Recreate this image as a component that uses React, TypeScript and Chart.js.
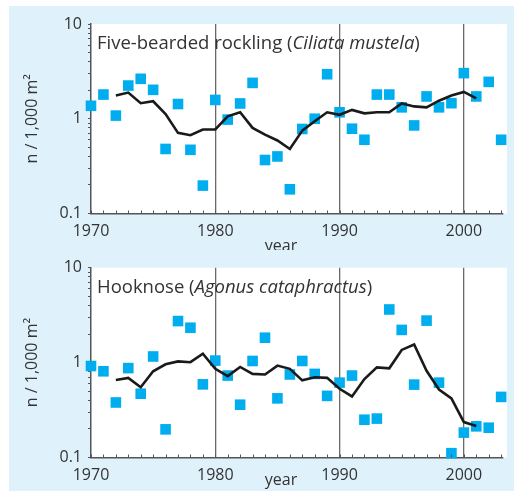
import React, { useEffect, useRef } from 'react';
import { Chart, registerables } from 'chart.js';

Chart.register(...registerables);

const years = [
  1970, 1971, 1972, 1973, 1974, 1975, 1976, 1977, 1978, 1979,
  1980, 1981, 1982, 1983, 1984, 1985, 1986, 1987, 1988, 1989,
  1990, 1991, 1992, 1993, 1994, 1995, 1996, 1997, 1998, 1999,
  2000, 2001, 2002, 2003,
];

const trendYears = [
  1972, 1973, 1974, 1975, 1976, 1977, 1978, 1979, 1980, 1981,
  1982, 1983, 1984, 1985, 1986, 1987, 1988, 1989, 1990, 1991,
  1992, 1993, 1994, 1995, 1996, 1997, 1998, 1999, 2000, 2001,
];

const rocklingObs = [
  1.37, 1.8, 1.08, 2.24, 2.64, 2.02, 0.48, 1.43, 0.47, 0.197,
  1.58, 0.98, 1.45, 2.39, 0.367, 0.4, 0.18, 0.78, 1.0, 2.95,
  1.17, 0.785, 0.6, 1.8, 1.8, 1.32, 0.85, 1.72, 1.32, 1.46,
  3.03, 1.72, 2.45, 0.6,
];

const rocklingTrend = [
  1.76, 1.89, 1.46, 1.53, 1.12, 0.71, 0.67, 0.77, 0.77, 1.06,
  1.17, 0.8, 0.68, 0.59, 0.48, 0.75, 0.94, 1.17, 1.1, 1.24,
  1.14, 1.17, 1.17, 1.45, 1.35, 1.32, 1.55, 1.76, 1.92, 1.64,
];

const hooknoseObs = [
  0.92, 0.81, 0.38, 0.875, 0.47, 1.16, 0.198, 2.74, 2.33, 0.59,
  1.05, 0.73, 0.36, 1.04, 1.83, 0.42, 0.75, 1.04, 0.76, 0.446,
  0.615, 0.73, 0.25, 0.257, 3.63, 2.21, 0.586, 2.77, 0.615, 0.111,
  0.183, 0.213, 0.206, 0.435,
];

const hooknoseTrend = [
  0.656, 0.69, 0.55, 0.81, 0.96, 1.03, 1.01, 1.24, 0.86, 0.72,
  0.9, 0.76, 0.75, 0.93, 0.86, 0.65, 0.7, 0.69, 0.53, 0.44,
  0.67, 0.89, 0.87, 1.36, 1.55, 0.82, 0.52, 0.42, 0.236, 0.215,
];

const yTickValues = [
  0.1, 0.2, 0.3, 0.4, 0.5, 0.6, 0.7, 0.8, 0.9,
  1, 2, 3, 4, 5, 6, 7, 8, 9, 10,
];
const yTickLabels: Record<string, string> = { '0.1': '0.1', '1': '1', '10': '10' };
const decadeLines = [1980, 1990, 2000];
const decadeLabels = [1970, 1980, 1990, 2000];

const rocklingTitle = [
  { text: 'Five-bearded rockling (', italic: false },
  { text: 'Ciliata mustela', italic: true },
  { text: ')', italic: false },
];
const hooknoseTitle = [
  { text: 'Hooknose (', italic: false },
  { text: 'Agonus cataphractus', italic: true },
  { text: ')', italic: false },
];

const FONT = "'Open Sans', 'DejaVu Sans', sans-serif";
const TEXT = '#333333';
const AXIS = '#555555';

type PanelProps = {
  obs: number[];
  trend: number[];
  title: { text: string; italic: boolean }[];
  height: number;
  padTop: number;
  xAxisHeight: number;
  yearDy: number;
};

function Panel({ obs, trend, title, height, padTop, xAxisHeight, yearDy }: PanelProps) {
  const ref = useRef<HTMLCanvasElement | null>(null);
  useEffect(() => {
    if (!ref.current) return;
    const obsPts = years.map((x, i) => ({ x, y: obs[i] }));
    const trendPts = trendYears.map((x, i) => ({ x, y: trend[i] }));

    const decor = {
      id: 'decor',
      beforeDraw(chart: any) {
        const { ctx, chartArea } = chart;
        ctx.save();
        ctx.fillStyle = '#ffffff';
        ctx.fillRect(chartArea.left, chartArea.top, chartArea.right - chartArea.left + 4, chartArea.bottom - chartArea.top);
        ctx.restore();
      },
      afterDraw(chart: any) {
        const { ctx, chartArea, scales } = chart;
        ctx.save();
        ctx.strokeStyle = AXIS;
        ctx.lineWidth = 1;
        years.forEach((yr) => {
          const px = Math.round(scales.x.getPixelForValue(yr)) + 0.5;
          ctx.beginPath();
          ctx.moveTo(px, chartArea.bottom);
          ctx.lineTo(px, chartArea.bottom - 3);
          ctx.stroke();
        });
        ctx.fillStyle = TEXT;
        ctx.textBaseline = 'alphabetic';
        let x = chartArea.left + 6;
        const y = chartArea.top + 25;
        title.forEach((p) => {
          ctx.font = `${p.italic ? 'italic ' : ''}18.5px ${FONT}`;
          ctx.fillText(p.text, x, y);
          x += ctx.measureText(p.text).width;
        });
        ctx.font = `16px ${FONT}`;
        ctx.textAlign = 'center';
        ctx.textBaseline = 'middle';
        ctx.fillText('year', 272, chartArea.bottom + yearDy);
        ctx.restore();
      },
    };

    const chart = new Chart(ref.current, {
      type: 'scatter',
      data: {
        datasets: [
          {
            type: 'line',
            data: trendPts,
            borderColor: '#1a1a1a',
            borderWidth: 2.6,
            pointRadius: 0,
            fill: false,
            tension: 0,
            order: 0,
          } as any,
          {
            type: 'scatter',
            data: obsPts,
            pointStyle: 'rect',
            pointRadius: 7.5,
            backgroundColor: '#00aeef',
            borderWidth: 0,
            order: 1,
          } as any,
        ],
      },
      options: {
        responsive: false,
        animation: false,
        events: [],
        clip: false as any,
        layout: { padding: { top: padTop, right: 11, left: 0, bottom: 0 } },
        plugins: { legend: { display: false }, tooltip: { enabled: false }, title: { display: false } },
        scales: {
          x: {
            type: 'linear',
            min: 1970,
            max: 2003.15,
            afterBuildTicks: (s: any) => {
              s.ticks = years.map((v) => ({ value: v }));
            },
            afterFit: (s: any) => {
              s.height = xAxisHeight;
            },
            ticks: {
              autoSkip: false,
              maxRotation: 0,
              padding: 8,
              color: TEXT,
              font: { family: FONT, size: 16 },
              callback: (v: any) => (decadeLabels.includes(Number(v)) ? String(v) : ''),
            },
            grid: {
              drawTicks: false,
              color: (c: any) => (c.tick && decadeLines.includes(c.tick.value) ? '#6a6a6a' : 'rgba(0,0,0,0)'),
              lineWidth: 1.3,
            },
            border: { display: true, color: AXIS, width: 1.5 },
          },
          y: {
            type: 'logarithmic',
            min: 0.1,
            max: 10,
            afterBuildTicks: (s: any) => {
              s.ticks = yTickValues.map((v) => ({ value: v }));
            },
            afterFit: (s: any) => {
              s.width = 82;
            },
            ticks: {
              autoSkip: false,
              padding: 6,
              color: TEXT,
              font: { family: FONT, size: 16 },
              callback: (v: any) => yTickLabels[String(Number(v))] ?? '',
            },
            grid: {
              drawOnChartArea: false,
              drawTicks: true,
              tickLength: 3,
              tickColor: AXIS,
              tickWidth: 1,
            },
            border: { display: true, color: AXIS, width: 1.5 },
            title: {
              display: true,
              text: 'n / 1,000 m²',
              color: TEXT,
              font: { family: FONT, size: 16 },
              padding: { top: 14, bottom: 0 },
            },
          },
        },
      },
      plugins: [decor],
    });
    return () => chart.destroy();
  }, []);
  return <canvas ref={ref} width={505} height={height} style={{ display: 'block' }} />;
}

export default function App() {
  return (
    <div
      style={{
        position: 'absolute',
        left: 9,
        top: 6,
        width: 505,
        height: 485,
        background: '#dff1fa',
        overflow: 'hidden',
      }}
    >
      <Panel obs={rocklingObs} trend={rocklingTrend} title={rocklingTitle} height={244} padTop={18} xAxisHeight={36.5} yearDy={32.5} />
      <Panel obs={hooknoseObs} trend={hooknoseTrend} title={hooknoseTitle} height={241} padTop={17.7} xAxisHeight={33.5} yearDy={22.5} />
    </div>
  );
}
